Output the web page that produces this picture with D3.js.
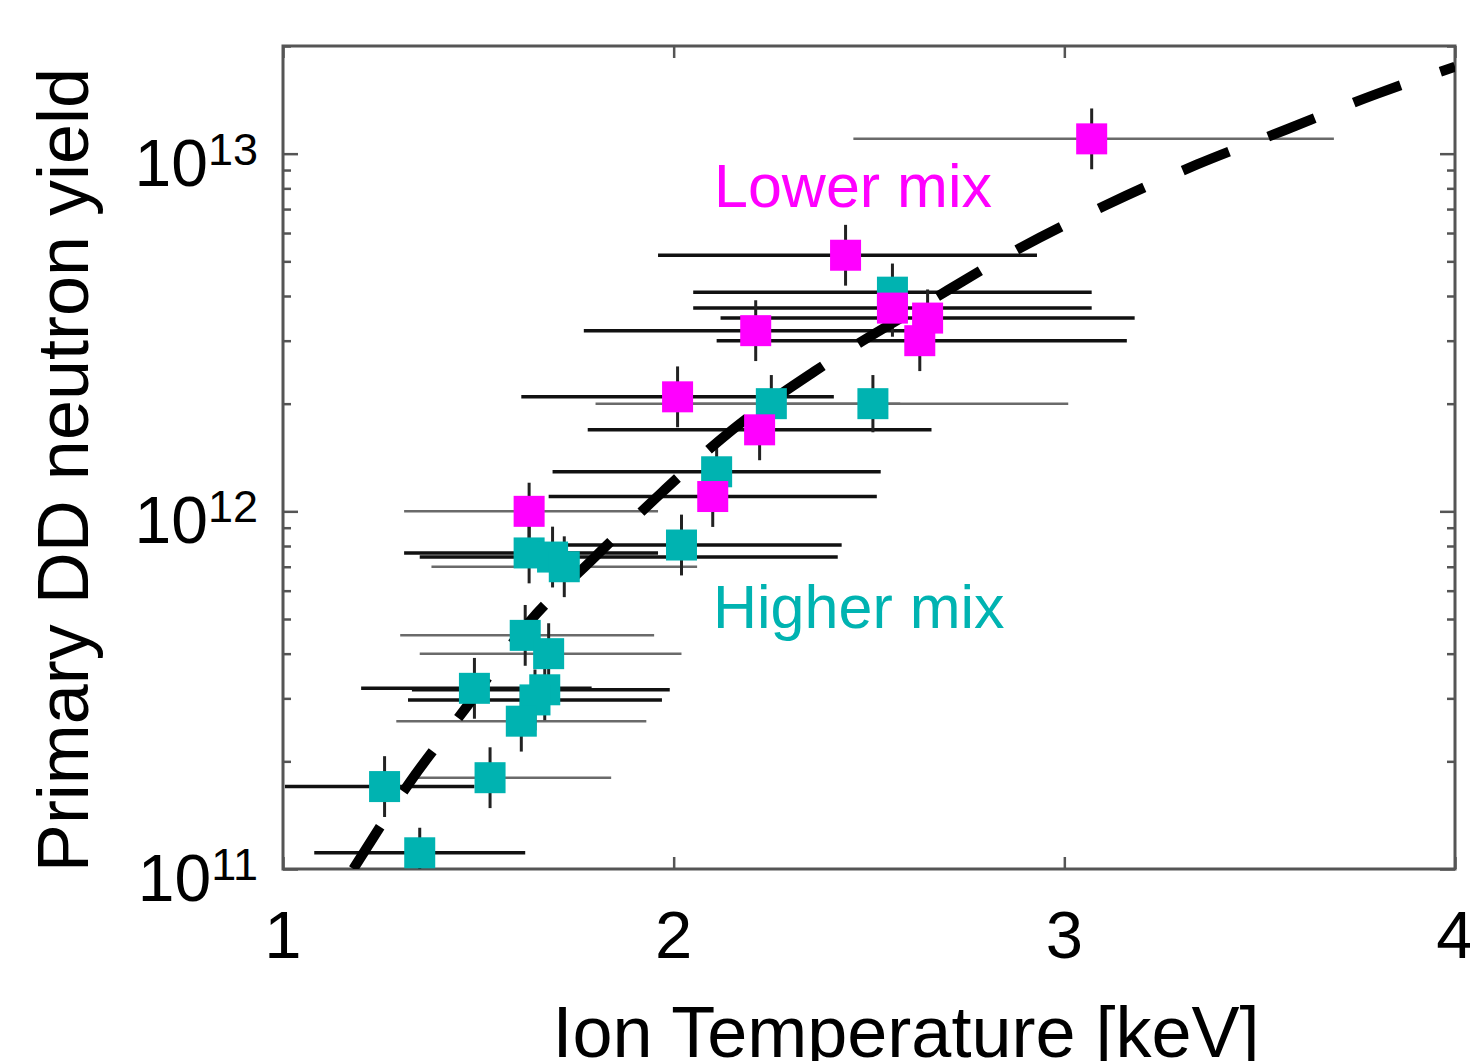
<!DOCTYPE html>
<html>
<head>
<meta charset="utf-8">
<script src="https://cdn.jsdelivr.net/npm/d3@7"></script>
<style>
  body { margin: 0; background: #fff; }
  svg { display: block; font-family: "Liberation Sans", Arial, sans-serif; }
</style>
</head>
<body>
<div id="chart"></div>
<script>
// Lower mix shots (magenta)
const lowerT    = [3.07, 2.44, 2.56, 2.65, 2.63, 2.21, 2.01, 2.22, 2.10, 1.63];
const lowerY    = [1.10e13, 5.2e12, 3.7e12, 3.47e12, 3.0e12, 3.2e12, 2.09e12, 1.69e12, 1.10e12, 1.0e12];
const lowerTLo  = [2.46, 1.96, 2.05, 2.12, 2.11, 1.77, 1.61, 1.78, 1.68, 1.31];
const lowerTHi  = [3.69, 2.93, 3.07, 3.18, 3.16, 2.66, 2.41, 2.66, 2.52, 1.96];
const lowerYErr = [0.085, 0.085, 0.08, 0.08, 0.085, 0.085, 0.085, 0.085, 0.085, 0.08];
const lowerThin = [true, false, false, false, false, false, false, false, false, true];

// Higher mix shots (teal)
const higherT    = [2.56, 2.25, 2.51, 2.11, 2.02, 1.63, 1.69, 1.72, 1.62, 1.68, 1.49, 1.67, 1.645, 1.61, 1.26, 1.53, 1.35];
const higherY    = [4.1e12, 2.0e12, 2.0e12, 1.29e12, 8.05e11, 7.65e11, 7.45e11, 7.0e11, 4.5e11, 4.0e11, 3.2e11, 3.17e11, 2.97e11, 2.59e11, 1.70e11, 1.80e11, 1.11e11];
const higherTLo  = [2.05, 1.80, 2.02, 1.69, 1.61, 1.31, 1.35, 1.38, 1.30, 1.35, 1.20, 1.33, 1.32, 1.29, 1.005, 1.33, 1.08];
const higherTHi  = [3.07, 2.58, 3.01, 2.53, 2.43, 1.96, 2.42, 2.06, 1.95, 2.02, 1.79, 1.99, 1.97, 1.93, 1.49, 1.84, 1.62];
const higherYErr = [0.08, 0.08, 0.08, 0.08, 0.085, 0.085, 0.085, 0.085, 0.085, 0.085, 0.085, 0.085, 0.085, 0.085, 0.085, 0.085, 0.07];
const higherThin = [false, true, true, false, false, false, false, true, true, true, false, false, false, true, false, true, false];

// Dashed model curve
const fitT = [1.18, 1.325, 1.47, 1.63, 1.79, 1.97, 2.15, 2.36, 2.65, 2.89, 3.11, 3.34, 3.57, 3.80, 4.0];
const fitY = [1.0e11, 1.75e11, 2.84e11, 4.9e11, 7.3e11, 1.13e12, 1.69e12, 2.46e12, 3.84e12, 5.47e12, 7.21e12, 9.33e12, 1.17e13, 1.47e13, 1.75e13];

// Axis ticks
const xTicks = [1, 2, 3, 4];
const yMajor = [1e11, 1e12, 1e13];
const yExp   = ['11', '12', '13'];

const magenta = '#ff00ff',
      teal = '#00b3b1';

function drawChart(chartId) {
    const W = 1470, H = 1061;
    const left = 283, right = 1455, top = 46, bottom = 869;

    const x = d3.scaleLinear().domain([1, 4]).range([left, right]);
    const y = d3.scaleLog().domain([1e11, 2e13]).range([bottom, top]);

    const svg = d3.select(chartId).append('svg')
        .attr('width', W)
        .attr('height', H);

    svg.append('defs').append('clipPath')
        .attr('id', 'plotClip')
        .append('rect')
        .attr('x', left).attr('y', top)
        .attr('width', right - left).attr('height', bottom - top);

    // minor ticks: 2..9 of every decade
    const yMinor = [];
    [1e11, 1e12, 1e13].forEach(d => {
        for (let m = 2; m <= 9; m++) if (d * m <= 2e13) yMinor.push(d * m);
    });

    // Ticks on all four sides, pointing inward
    const tickStyle = g => {
        g.select('.domain').remove();
        g.selectAll('line').attr('stroke', '#555').attr('stroke-width', 2.5);
    };
    svg.append('g').attr('transform', 'translate(' + left + ',0)')
        .call(d3.axisRight(y).tickValues(yMajor).tickSize(15).tickFormat(''))
        .call(tickStyle);
    svg.append('g').attr('transform', 'translate(' + left + ',0)')
        .call(d3.axisRight(y).tickValues(yMinor).tickSize(8).tickFormat(''))
        .call(tickStyle);
    svg.append('g').attr('transform', 'translate(' + right + ',0)')
        .call(d3.axisLeft(y).tickValues(yMajor).tickSize(15).tickFormat(''))
        .call(tickStyle);
    svg.append('g').attr('transform', 'translate(' + right + ',0)')
        .call(d3.axisLeft(y).tickValues(yMinor).tickSize(8).tickFormat(''))
        .call(tickStyle);
    svg.append('g').attr('transform', 'translate(0,' + bottom + ')')
        .call(d3.axisTop(x).tickValues(xTicks).tickSize(12).tickFormat(''))
        .call(tickStyle);
    svg.append('g').attr('transform', 'translate(0,' + top + ')')
        .call(d3.axisBottom(x).tickValues(xTicks).tickSize(12).tickFormat(''))
        .call(tickStyle);

    // Frame
    svg.append('rect')
        .attr('x', left).attr('y', top)
        .attr('width', right - left).attr('height', bottom - top)
        .attr('fill', 'none')
        .attr('stroke', '#555')
        .attr('stroke-width', 3);

    // X tick labels
    svg.selectAll('.xlab')
        .data(xTicks)
        .enter().append('text')
        .attr('class', 'xlab')
        .attr('x', d => x(d))
        .attr('y', 958)
        .attr('text-anchor', 'middle')
        .attr('font-size', 67)
        .text(d => d);

    // Y tick labels 10^n
    const ylab = svg.selectAll('.ylab')
        .data(yMajor)
        .enter().append('text')
        .attr('class', 'ylab')
        .attr('x', 258)
        .attr('y', d => y(d) + 32)
        .attr('text-anchor', 'end');
    ylab.append('tspan').attr('font-size', 66).text('10');
    ylab.append('tspan').attr('font-size', 45).attr('dy', -21).text((d, i) => yExp[i]);

    // Axis titles
    svg.append('text')
        .attr('x', 906)
        .attr('y', 1057)
        .attr('text-anchor', 'middle')
        .attr('font-size', 72)
        .text('Ion Temperature [keV]');

    svg.append('text')
        .attr('transform', 'translate(88,470) rotate(-90)')
        .attr('text-anchor', 'middle')
        .attr('font-size', 72)
        .text('Primary DD neutron yield');

    // Build point tables
    const lower = lowerT.map((t, i) => ({t: t, v: lowerY[i], lo: lowerTLo[i], hi: lowerTHi[i], e: lowerYErr[i], thin: lowerThin[i]}));
    const higher = higherT.map((t, i) => ({t: t, v: higherY[i], lo: higherTLo[i], hi: higherTHi[i], e: higherYErr[i], thin: higherThin[i]}));
    const all = higher.concat(lower);

    const plot = svg.append('g').attr('clip-path', 'url(#plotClip)');

    // Horizontal error bars
    plot.selectAll('.xerr')
        .data(all)
        .enter().append('line')
        .attr('class', 'xerr')
        .attr('x1', d => x(d.lo))
        .attr('x2', d => x(d.hi))
        .attr('y1', d => y(d.v))
        .attr('y2', d => y(d.v))
        .attr('stroke', d => d.thin ? '#6a6a6a' : '#111')
        .attr('stroke-width', d => d.thin ? 2.5 : 3.5);

    // Vertical error bars
    plot.selectAll('.yerr')
        .data(all)
        .enter().append('line')
        .attr('class', 'yerr')
        .attr('x1', d => x(d.t))
        .attr('x2', d => x(d.t))
        .attr('y1', d => y(d.v * Math.pow(10, d.e)))
        .attr('y2', d => y(d.v / Math.pow(10, d.e)))
        .attr('stroke', '#222')
        .attr('stroke-width', 3);

    // Dashed model line
    plot.append('path')
        .datum(fitT.map((t, i) => [t, fitY[i]]))
        .attr('fill', 'none')
        .attr('stroke', '#000')
        .attr('stroke-width', 10)
        .attr('stroke-dasharray', '50,42')
        .attr('d', d3.line()
            .x(d => x(d[0]))
            .y(d => y(d[1]))
            .curve(d3.curveMonotoneX));

    // Markers
    const size = 31;
    plot.selectAll('.hi')
        .data(higher)
        .enter().append('rect')
        .attr('class', 'hi')
        .attr('x', d => x(d.t) - size / 2)
        .attr('y', d => y(d.v) - size / 2)
        .attr('width', size).attr('height', size)
        .attr('fill', teal);

    plot.selectAll('.lo')
        .data(lower)
        .enter().append('rect')
        .attr('class', 'lo')
        .attr('x', d => x(d.t) - size / 2)
        .attr('y', d => y(d.v) - size / 2)
        .attr('width', size).attr('height', size)
        .attr('fill', magenta);

    // Group labels
    svg.append('text')
        .attr('x', 714).attr('y', 207)
        .attr('font-size', 61)
        .attr('fill', magenta)
        .text('Lower mix');

    svg.append('text')
        .attr('x', 713).attr('y', 628)
        .attr('font-size', 61)
        .attr('fill', teal)
        .text('Higher mix');
}

drawChart('#chart');
</script>
</body>
</html>
